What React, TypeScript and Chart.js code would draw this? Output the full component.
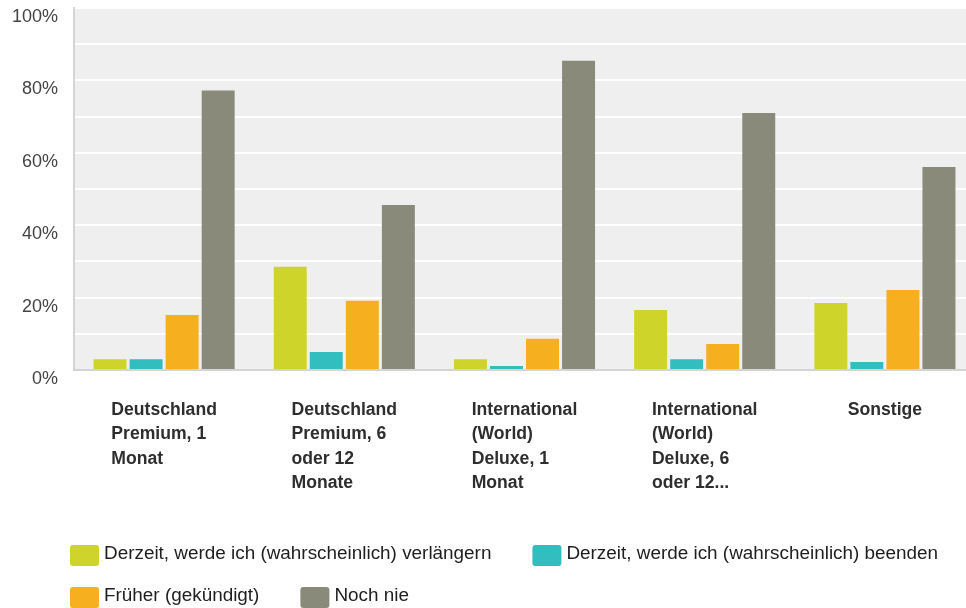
import React, { useEffect, useRef } from 'react';
import { Chart, registerables } from 'chart.js';

Chart.register(...registerables);

const FONT = '"Liberation Sans", Arial, Helvetica, sans-serif';

const categories: string[][] = [
  ['Deutschland', 'Premium, 1', 'Monat'],
  ['Deutschland', 'Premium, 6', 'oder 12', 'Monate'],
  ['International', '(World)', 'Deluxe, 1', 'Monat'],
  ['International', '(World)', 'Deluxe, 6', 'oder 12...'],
  ['Sonstige'],
];

const seriesNames = [
  'Derzeit, werde ich (wahrscheinlich) verlängern',
  'Derzeit, werde ich (wahrscheinlich) beenden',
  'Früher (gekündigt)',
  'Noch nie',
];

const seriesColors = ['#CFD42A', '#32BDBF', '#F6AF1F', '#8A8A7A'];

const verlaengern = [3.0, 28.5, 3.0, 16.6, 18.5];
const beenden = [3.0, 5.0, 1.1, 3.0, 2.2];
const frueher = [15.2, 19.1, 8.6, 7.2, 22.1];
const nochNie = [77.2, 45.6, 85.4, 71.0, 56.1];

const yTickLabels = [0, 20, 40, 60, 80, 100];

const plotBackground = {
  id: 'plotBackground',
  beforeDraw(chart: any) {
    const { ctx, chartArea } = chart;
    ctx.save();
    ctx.fillStyle = '#efefef';
    ctx.fillRect(chartArea.left, chartArea.top, chartArea.right - chartArea.left, chartArea.bottom - chartArea.top);
    ctx.restore();
  },
};

const xLabels = {
  id: 'xLabels',
  afterDraw(chart: any) {
    const { ctx, chartArea } = chart;
    const xs = chart.scales.x;
    ctx.save();
    ctx.font = `bold 17.6px ${FONT}`;
    ctx.fillStyle = '#2e2e2e';
    ctx.textAlign = 'left';
    ctx.textBaseline = 'alphabetic';
    const lineH = 24.3;
    (chart.data.labels as string[][]).forEach((lines, i) => {
      const cx = xs.getPixelForValue(i);
      const w = Math.max(...lines.map((l) => ctx.measureText(l).width));
      const x0 = cx - w / 2;
      lines.forEach((l, j) => {
        ctx.fillText(l, x0, chartArea.bottom + 45 + j * lineH);
      });
    });
    ctx.restore();
  },
};

const customLegend = {
  id: 'customLegend',
  afterDraw(chart: any) {
    const { ctx } = chart;
    const startX = 70;
    const firstTop = 545;
    const rowGap = 42;
    const boxW = 29;
    const boxH = 21;
    const textGap = 5;
    const itemGap = 41;
    const maxRight = 950;
    ctx.save();
    ctx.font = `18.9px ${FONT}`;
    ctx.textBaseline = 'alphabetic';
    ctx.textAlign = 'left';
    let x = startX;
    let top = firstTop;
    chart.data.datasets.forEach((ds: any) => {
      const tw = ctx.measureText(ds.label).width;
      const itemW = boxW + textGap + tw;
      if (x > startX && x + itemW > maxRight) {
        x = startX;
        top += rowGap;
      }
      ctx.fillStyle = ds.backgroundColor;
      ctx.beginPath();
      (ctx as any).roundRect(x, top, boxW, boxH, 3);
      ctx.fill();
      ctx.fillStyle = '#1e1e1e';
      ctx.fillText(ds.label, x + boxW + textGap, top + 14);
      x += itemW + itemGap;
    });
    ctx.restore();
  },
};

export default function App() {
  const ref = useRef<HTMLCanvasElement>(null);

  useEffect(() => {
    if (!ref.current) return;
    const values = [verlaengern, beenden, frueher, nochNie];
    const chart = new Chart(ref.current, {
      type: 'bar',
      data: {
        labels: categories as any,
        datasets: seriesNames.map((name, i) => ({
          label: name,
          data: values[i],
          backgroundColor: seriesColors[i],
          borderWidth: 0,
          categoryPercentage: 0.8,
          barPercentage: 0.915,
        })),
      },
      options: {
        responsive: false,
        animation: false,
        layout: { padding: { top: 8, right: 5, left: 0, bottom: 0 } },
        plugins: {
          legend: { display: false },
          tooltip: { enabled: false },
        },
        scales: {
          x: {
            grid: { display: false },
            border: { display: true, color: '#d4d4d4', width: 2 },
            ticks: { display: false },
            afterFit: (s: any) => {
              s.height = 238;
              s.paddingLeft = 0;
              s.paddingRight = 0;
            },
          },
          y: {
            min: 0,
            max: 100,
            ticks: {
              stepSize: 10,
              padding: 16,
              labelOffset: 9,
              color: '#444444',
              font: { size: 18, family: FONT },
              callback: (v: any) => (yTickLabels.includes(Number(v)) ? `${v}%` : ''),
            },
            grid: { color: '#ffffff', lineWidth: 2, drawTicks: false },
            border: { display: true, color: '#d4d4d4', width: 2 },
            afterFit: (s: any) => {
              s.width = 74;
              s.paddingTop = 0;
              s.paddingBottom = 0;
            },
          },
        },
      },
      plugins: [plotBackground, xLabels, customLegend],
    });
    return () => chart.destroy();
  }, []);

  return (
    <div style={{ position: 'absolute', left: 0, top: 0, width: 966, height: 608, overflow: 'hidden', background: '#fff' }}>
      <canvas ref={ref} width={980} height={608} style={{ display: 'block' }} />
    </div>
  );
}
